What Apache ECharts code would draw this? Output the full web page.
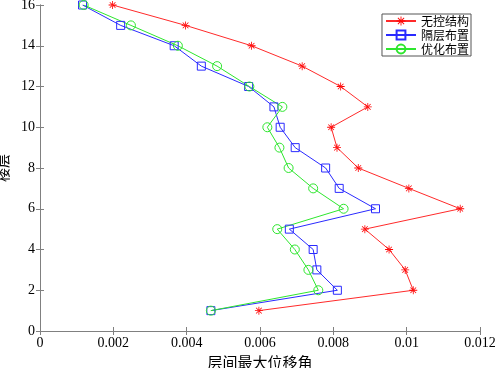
<!DOCTYPE html>
<html>
<head>
<meta charset="utf-8">
<script src="https://cdn.jsdelivr.net/npm/echarts@6/dist/echarts.min.js"></script>
<style>
  html, body { margin: 0; padding: 0; background: #fff; }
  #chart { width: 496px; height: 368px; }
</style>
</head>
<body>
<div id="chart"></div>
<script>
// floors 1..16
const floors = [1, 2, 3, 4, 5, 6, 7, 8, 9, 10, 11, 12, 13, 14, 15, 16]
const seriesNames = ['无控结构', '隔层布置', '优化布置']
// max inter-story drift ratio per floor
const noControl = [0.00597, 0.01018, 0.00996, 0.00952, 0.00886, 0.01146, 0.01006, 0.00868, 0.00810, 0.00794, 0.00894, 0.00820, 0.00715, 0.00577, 0.00397, 0.00198]
const alternate = [0.00466, 0.00811, 0.00755, 0.00745, 0.00680, 0.00915, 0.00816, 0.00779, 0.00696, 0.00655, 0.00638, 0.00569, 0.00440, 0.00366, 0.00220, 0.00116]
const optimized = [0.00466, 0.00759, 0.00732, 0.00695, 0.00647, 0.00828, 0.00745, 0.00678, 0.00653, 0.00620, 0.00661, 0.00571, 0.00483, 0.00376, 0.00248, 0.00119]
const xTicks = [0, 0.002, 0.004, 0.006, 0.008, 0.01, 0.012]

const serif = 'Liberation Serif'
const cjk = 'Noto Sans CJK SC'
const axisGray = '#808080'

// MATLAB style asterisk marker
const starPath = 'path://M9,0h2v20h-2z M0,9h20v2h-20z M2.2,3.6l1.4,-1.4l14.2,14.2l-1.4,1.4z M17.8,3.6l-1.4,-1.4l-14.2,14.2l1.4,1.4z'

const toPoints = vals => vals.map((v, i) => [v, floors[i]])

const chart = echarts.init(document.getElementById('chart'), null, { renderer: 'canvas' })

const baseAxis = {
  axisLine: { show: true, lineStyle: { color: axisGray, width: 1 } },
  axisTick: { show: true, inside: true, length: 4, lineStyle: { color: axisGray } },
  splitLine: { show: false }
}

chart.setOption({
  animation: false,
  backgroundColor: '#fff',
  grid: { left: 40, right: 16, top: 5, bottom: 37, outerBoundsMode: 'none', containLabel: false },
  xAxis: [
    {
      ...baseAxis,
      type: 'value', min: 0, max: 0.012, interval: 0.002,
      axisLabel: {
        color: '#000', fontFamily: serif, fontSize: 14, margin: 5,
        formatter: v => {
          const hit = xTicks.find(t => Math.abs(t - v) < 1e-9)
          return hit === undefined ? '' : String(hit)
        }
      },
      name: '层间最大位移角', nameLocation: 'middle', nameGap: 24,
      nameTextStyle: { color: '#000', fontFamily: cjk, fontSize: 15 }
    },
    {
      ...baseAxis,
      type: 'value', position: 'top', min: 0, max: 0.012, interval: 0.002,
      axisLabel: { show: false }
    }
  ],
  yAxis: [
    {
      ...baseAxis,
      type: 'value', min: 0, max: 16, interval: 2,
      axisLabel: { color: '#000', fontFamily: serif, fontSize: 14, margin: 5 },
      name: '楼层', nameLocation: 'middle', nameGap: 24, nameRotate: 90,
      nameTextStyle: { color: '#000', fontFamily: cjk, fontSize: 14 }
    },
    {
      ...baseAxis,
      type: 'value', position: 'right', min: 0, max: 16, interval: 2,
      axisLabel: { show: false }
    }
  ],
  legend: {
    orient: 'vertical',
    right: 25, top: 14,
    backgroundColor: '#fff',
    borderColor: '#555', borderWidth: 1,
    padding: [1, 2, 1, 3],
    itemGap: 2,
    itemWidth: 30, itemHeight: 11,
    textStyle: { color: '#000', fontFamily: cjk, fontSize: 12 },
    data: seriesNames
  },
  series: [
    {
      name: seriesNames[0], type: 'line', data: toPoints(noControl),
      symbol: starPath, symbolSize: 8,
      lineStyle: { color: '#ff2a2a', width: 1 },
      itemStyle: { color: '#ff0000' }
    },
    {
      name: seriesNames[1], type: 'line', data: toPoints(alternate),
      symbol: 'rect', symbolSize: 8,
      lineStyle: { color: '#2a2aff', width: 1 },
      itemStyle: { color: 'rgba(0,0,0,0)', borderColor: '#2a2aff', borderWidth: 1 }
    },
    {
      name: seriesNames[2], type: 'line', data: toPoints(optimized),
      symbol: 'circle', symbolSize: 9,
      lineStyle: { color: '#2ee62e', width: 1 },
      itemStyle: { color: 'rgba(0,0,0,0)', borderColor: '#2ee62e', borderWidth: 1 }
    }
  ]
})
</script>
</body>
</html>
